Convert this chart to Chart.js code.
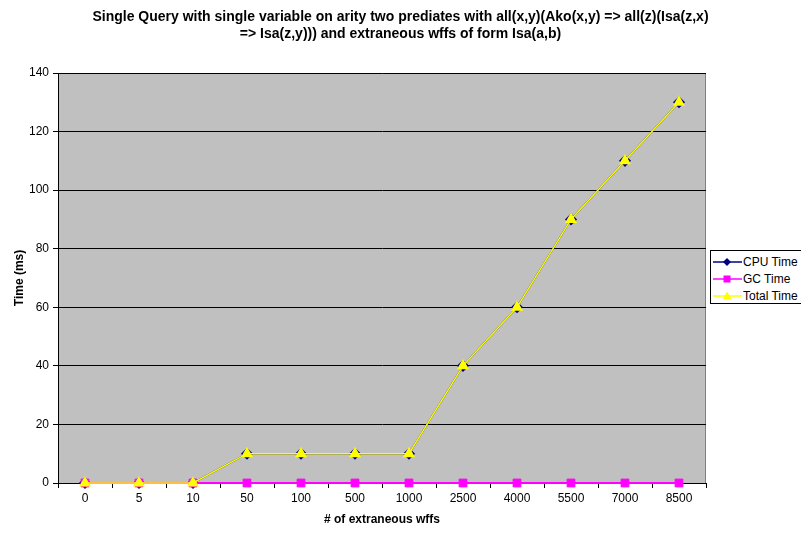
<!DOCTYPE html>
<html>
<head>
<meta charset="utf-8">
<script src="https://cdn.jsdelivr.net/npm/chart.js@4"></script>
<style>
  body { margin: 0; background: #fff; }
  #wrap { position: relative; width: 801px; height: 533px; overflow: hidden; }
  #title {
    position: absolute; left: 0; top: 8px; width: 801px; text-align: center;
    font: bold 14px/17px "Liberation Sans", Arial, sans-serif; color: #000;
  }
  #legend {
    position: absolute; left: 710px; top: 250px; width: 95px; height: 54px;
    border: 1px solid #000; background: #fff; box-sizing: border-box;
    font: 12px "Liberation Sans", Arial, sans-serif; color: #000;
  }
  .lg-row { position: absolute; left: 2px; height: 14px; display: flex; align-items: center; white-space: nowrap; }
  .lg-row svg { margin-right: 1px; }
</style>
</head>
<body>
<div id="wrap">
  <canvas id="c" width="801" height="533"></canvas>
  <div id="title">Single Query with single variable on arity two prediates with all(x,y)(Ako(x,y) =&gt; all(z)(Isa(z,x)<br>=&gt; Isa(z,y))) and extraneous wffs of form Isa(a,b)</div>
  <div id="legend"></div>
</div>
<script>
const categories = ['0', '5', '10', '50', '100', '500', '1000', '2500', '4000', '5500', '7000', '8500'];
const cpuTime = [0, 0, 0, 10, 10, 10, 10, 40, 60, 90, 110, 130];
const gcTime = [0, 0, 0, 0, 0, 0, 0, 0, 0, 0, 0, 0];
const totalTime = [0, 0, 0, 10, 10, 10, 10, 40, 60, 90, 110, 130];
const yTicks = [0, 20, 40, 60, 80, 100, 120, 140];

const FONT = '"Liberation Sans", Arial, sans-serif';

const plotBg = {
  id: 'plotBg',
  beforeDraw(chart) {
    const { ctx, chartArea: a } = chart;
    ctx.save();
    ctx.fillStyle = '#c0c0c0';
    ctx.fillRect(a.left, a.top, a.right - a.left, a.bottom - a.top);
    ctx.strokeStyle = '#808080';
    ctx.lineWidth = 1;
    ctx.strokeRect(a.left + 0.5, a.top + 0.5, a.right - a.left - 1, a.bottom - a.top);
    ctx.restore();
  }
};

new Chart(document.getElementById('c'), {
  type: 'line',
  data: {
    labels: categories,
    datasets: [
      {
        label: 'Total Time', data: totalTime, order: 1, clip: false,
        borderColor: '#ffff00', backgroundColor: '#ffff00', borderWidth: 1.5,
        pointStyle: 'triangle', pointRadius: 5.5, pointBorderColor: '#ffff00', tension: 0
      },
      {
        label: 'GC Time', data: gcTime, order: 2, clip: false,
        borderColor: '#ff00ff', backgroundColor: '#ff00ff', borderWidth: 2,
        pointStyle: 'rect', pointRadius: 5.5, pointBorderWidth: 1, tension: 0
      },
      {
        label: 'CPU Time', data: cpuTime, order: 3, clip: false,
        borderColor: '#000080', backgroundColor: '#000080', borderWidth: 1.5,
        pointStyle: 'rectRot', pointRadius: 5, tension: 0
      }
    ]
  },
  options: {
    responsive: false,
    animation: false,
    layout: { padding: { left: 8, right: 95, top: 73, bottom: 2 } },
    plugins: {
      legend: { display: false },
      tooltip: { enabled: false },
      title: { display: false }
    },
    scales: {
      x: {
        offset: true,
        grid: { offset: true, drawOnChartArea: false, color: '#000', tickLength: 5 },
        border: { color: '#000' },
        ticks: { color: '#000', font: { family: FONT, size: 12 }, maxRotation: 0, padding: 3 },
        title: { display: true, text: '# of extraneous wffs', color: '#000',
                 font: { family: FONT, size: 12, weight: 'bold' }, padding: { top: 6 } },
        afterFit(s) { s.height = 48; }
      },
      y: {
        min: 0, max: 140,
        afterBuildTicks(s) { s.ticks = yTicks.map(v => ({ value: v })); },
        grid: { color: '#000', tickLength: 5 },
        border: { color: '#000' },
        ticks: { color: '#000', font: { family: FONT, size: 12 }, padding: 4 },
        title: { display: true, text: 'Time (ms)', color: '#000',
                 font: { family: FONT, size: 12, weight: 'bold' } },
        afterFit(s) { s.width = 50; }
      }
    }
  },
  plugins: [plotBg]
});

// legend with line + marker icons
const legendItems = [
  { name: 'CPU Time', color: '#000080', marker: 'diamond' },
  { name: 'GC Time', color: '#ff00ff', marker: 'square' },
  { name: 'Total Time', color: '#ffff00', marker: 'triangle' }
];
const lg = document.getElementById('legend');
legendItems.forEach((it, i) => {
  let m;
  if (it.marker === 'diamond') m = `<polygon points="14,3 18,7 14,11 10,7" fill="${it.color}"/>`;
  else if (it.marker === 'square') m = `<rect x="10.5" y="3.5" width="7" height="7" fill="${it.color}"/>`;
  else m = `<polygon points="14,2.5 18.5,10.5 9.5,10.5" fill="${it.color}"/>`;
  lg.innerHTML += `<div class="lg-row" style="top:${4 + i * 17}px">
    <svg width="29" height="14"><line x1="0" y1="7" x2="29" y2="7" stroke="${it.color}" stroke-width="1.5"/>${m}</svg>${it.name}</div>`;
});
</script>
</body>
</html>
